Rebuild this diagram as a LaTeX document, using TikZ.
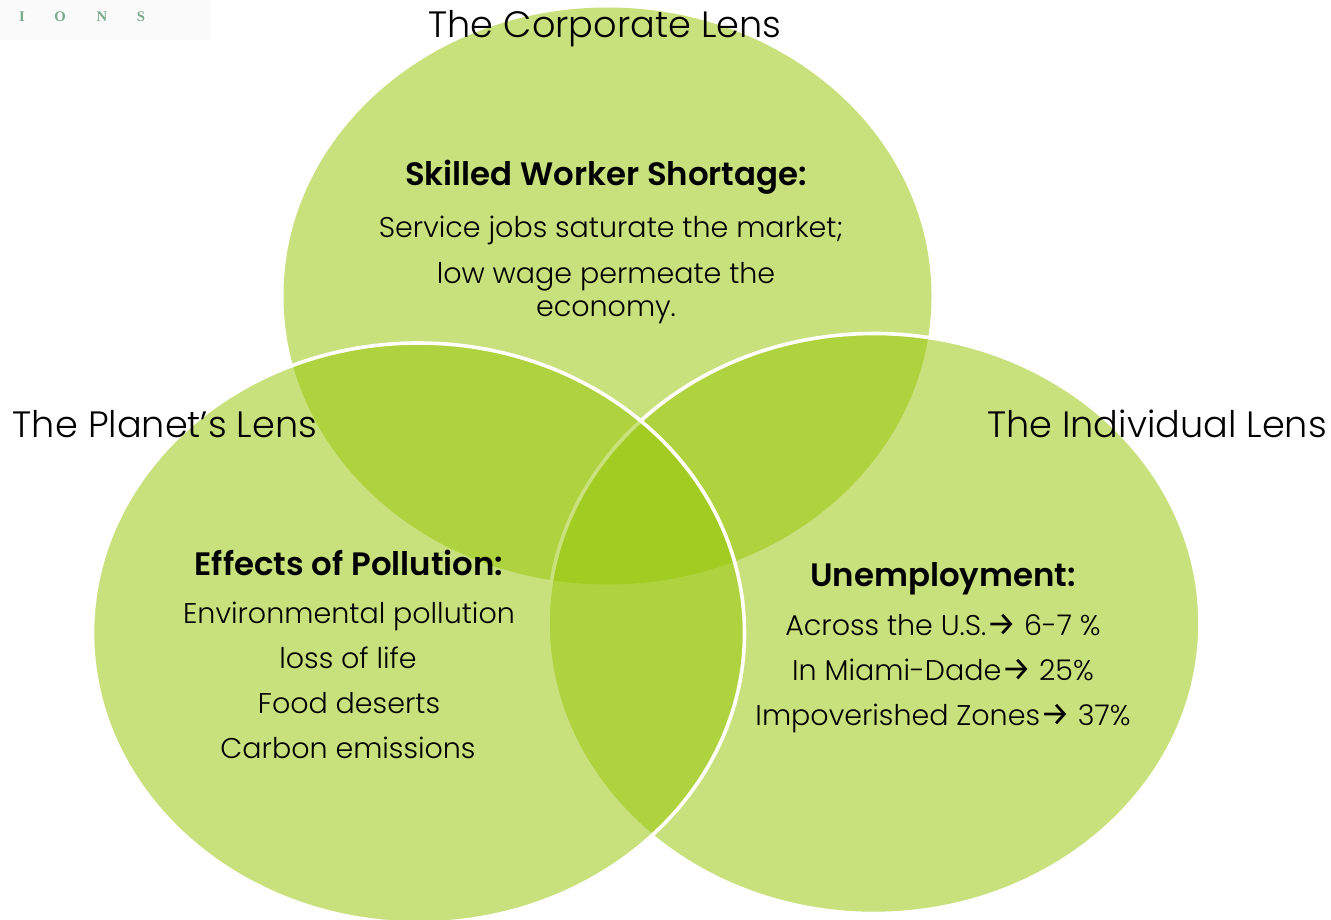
\documentclass[tikz,border=0pt]{standalone}
\usepackage{fontspec}
\setmainfont{Poppins Light}[BoldFont={Poppins SemiBold}]
\newfontfamily\arrowfont{Fira Sans}
\newfontfamily\logofont{Liberation Serif}
\usetikzlibrary{shapes.geometric}
\definecolor{lensgreen}{RGB}{151,199,7}
\definecolor{logogreen}{RGB}{120,170,140}
\definecolor{logobg}{RGB}{250,250,250}
\newcommand{\unitpx}{*0.75pt}
\tikzset{
  lens/.style={ellipse,inner sep=0pt,minimum width=648\unitpx,minimum height=577\unitpx,fill=lensgreen,fill opacity=.52,draw opacity=1},
  rim/.style={draw=white,line width=3.6\unitpx,minimum width=652\unitpx,minimum height=580\unitpx},
  title/.style={font=\fontsize{27.5}{27.5}\selectfont,text=black,inner sep=0pt,anchor=base},
  head/.style={font=\fontsize{24.3}{24.3}\selectfont\bfseries,text=black,inner sep=0pt,anchor=base},
  body/.style={font=\fontsize{21.4}{21.4}\selectfont,text=black,inner sep=0pt,anchor=base},
  logoletter/.style={font=\logofont\bfseries\fontsize{11}{11}\selectfont,text=logogreen,inner sep=0pt,anchor=center}
}
\newcommand{\goesto}{{\arrowfont\fontsize{25}{25}\selectfont→}}
\begin{document}
\begin{tikzpicture}[x=0.75pt,y=-0.75pt]
\useasboundingbox (0,0) rectangle (1331,920);
\clip (0,0) rectangle (1331,920);
\fill[white] (0,0) rectangle (1331,920);
\fill[logobg] (0,0) rectangle (210,40);
\node[logoletter] (li) at (22,17) {I};
\node[logoletter] (lo) at (60,17) {O};
\node[logoletter] (ln) at (102,17) {N};
\node[logoletter] (ls) at (141,17) {S};
\node[lens] (top) at (607.5,296) {};
\node[lens,rim] (right) at (874,623.5) {};
\node[lens,rim] (left) at (418.5,633) {};
\node[title] (tc) at (605,37.5) {The Corporate Lens};
\node[title] (tp) at (165,437) {The Planet’s Lens};
\node[title] (ti) at (1157,437) {The Individual Lens};
\node[head] (h1) at (606,185.5) {Skilled Worker Shortage:};
\node[body] (a1) at (611,238) {Service jobs saturate the market;};
\node[body] (a2) at (606,283) {low wage permeate the};
\node[body] (a3) at (606,316) {economy.};
\node[head] (h2) at (349,575) {Effects of Pollution:};
\node[body] (b1) at (349,623) {Environmental pollution};
\node[body] (b2) at (348,668) {loss of life};
\node[body] (b3) at (349,713) {Food deserts};
\node[body] (b4) at (348,758) {Carbon emissions};
\node[head] (h3) at (943,586.5) {Unemployment:};
\node[body] (c1) at (943,635) {Across the U.S.\goesto{} 6-7 \%};
\node[body] (c2) at (943,680) {In Miami-Dade\goesto{} 25\%};
\node[body] (c3) at (943,725) {Impoverished Zones\goesto{} 37\%};
\end{tikzpicture}
\end{document}
